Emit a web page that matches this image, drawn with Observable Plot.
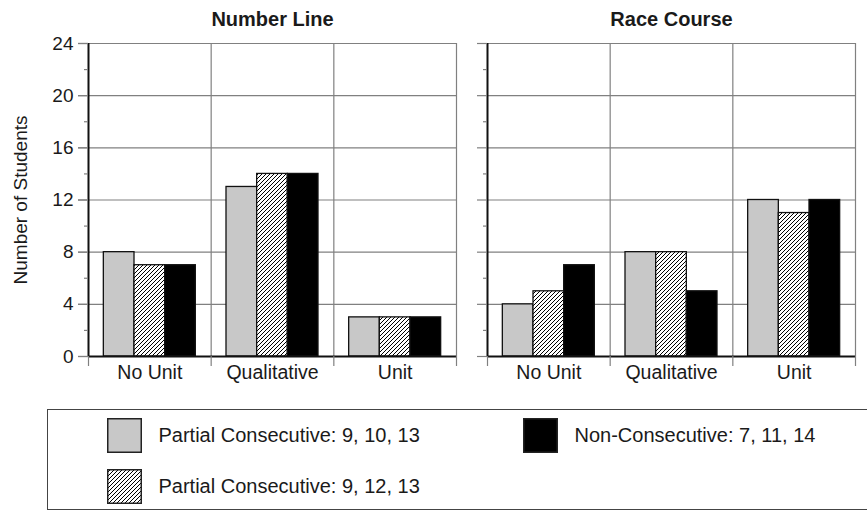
<!DOCTYPE html>
<html>
<head>
<meta charset="utf-8">
<script src="https://cdn.jsdelivr.net/npm/d3@7"></script>
<script src="https://cdn.jsdelivr.net/npm/@observablehq/plot@0.6"></script>
<style>
  html, body { margin: 0; padding: 0; background: #fff; overflow: hidden; }
  body { font-family: "Liberation Sans", Arial, Helvetica, sans-serif; color: #111; }
  #chart { position: relative; width: 867px; height: 512px; }
  .legend {
    position: absolute; left: 47px; top: 409px; width: 840px; height: 101px;
    box-sizing: border-box; border: 1.5px solid #444;
    display: grid; grid-template-columns: 416px auto; grid-template-rows: 35px 35px;
    row-gap: 16px; grid-auto-flow: column; padding: 7.5px 0 0 58.5px;
  }
  .legend .item { display: flex; align-items: center; gap: 17px; font-size: 20px; white-space: nowrap; color: #1a1a1a; }
  .legend svg { display: block; }
</style>
</head>
<body>
<svg width="0" height="0" style="position:absolute">
  <defs>
    <pattern id="hatch" patternUnits="userSpaceOnUse" width="4" height="4">
      <rect width="4" height="4" fill="#fff"></rect>
      <path d="M0,4 L4,0 M-1,1 L1,-1 M3,5 L5,3" stroke="#000" stroke-width="1"></path>
    </pattern>
  </defs>
</svg>
<div id="chart"></div>
<script>
// Task representations and solution categories
const panels = ["Number Line", "Race Course"];
const categories = ["No Unit", "Qualitative", "Unit"];
const series = [
  "Partial Consecutive: 9, 10, 13",
  "Partial Consecutive: 9, 12, 13",
  "Non-Consecutive: 7, 11, 14"
];
const seriesFills = ["#c8c8c8", "url(#hatch)", "#000"];

// Number of students per category (No Unit, Qualitative, Unit)
const numberLinePartial91013 = [8, 13, 3];
const numberLinePartial91213 = [7, 14, 3];
const numberLineNonConsecutive = [7, 14, 3];
const raceCoursePartial91013 = [4, 8, 12];
const raceCoursePartial91213 = [5, 8, 11];
const raceCourseNonConsecutive = [7, 5, 12];

const yMajorTicks = [0, 4, 8, 12, 16, 20, 24];
const yMinorTicks = [2, 6, 10, 14, 18, 22];

const panelSeries = {
  "Number Line": [numberLinePartial91013, numberLinePartial91213, numberLineNonConsecutive],
  "Race Course": [raceCoursePartial91013, raceCoursePartial91213, raceCourseNonConsecutive]
};

const rows = [];
for (const panel of panels) {
  panelSeries[panel].forEach((values, si) => {
    values.forEach((value, ci) => {
      rows.push({panel, category: categories[ci], ci, series: series[si], si, value});
    });
  });
}

// Each category occupies one unit on x; three bars fill the middle three quarters.
const barWidth = 0.25;
const groupStart = 0.125;

const gridColor = "#808080";
const fontSize = 19;

const plot = Plot.plot({
  width: 867,
  height: 400,
  marginLeft: 88,
  marginRight: 12,
  marginTop: 43,
  marginBottom: 44,
  style: {fontFamily: "'Liberation Sans', Arial, Helvetica, sans-serif", fontSize: fontSize + "px", color: "#1a1a1a", background: "#fff", overflow: "visible"},
  fx: {domain: panels, paddingInner: 0.0777, paddingOuter: 0},
  x: {domain: [0, categories.length]},
  y: {domain: [0, 24]},
  color: {type: "ordinal", domain: series, range: seriesFills},
  marks: [
    Plot.gridY({ticks: yMajorTicks.slice(1), stroke: gridColor, strokeOpacity: 1, strokeWidth: 1.2}),
    Plot.gridX({ticks: [1, 2, 3], stroke: gridColor, strokeOpacity: 1, strokeWidth: 1.2}),
    Plot.rectY(rows, {
      fx: "panel",
      x1: (d) => d.ci + groupStart + barWidth * d.si,
      x2: (d) => d.ci + groupStart + barWidth * (d.si + 1),
      y1: 0,
      y2: "value",
      fill: "series",
      stroke: "#111",
      strokeWidth: 1.3
    }),
    Plot.ruleX([0], {stroke: "#111", strokeWidth: 2}),
    Plot.ruleY([0], {stroke: "#111", strokeWidth: 2}),
    // tick marks on every panel
    Plot.axisY({ticks: yMajorTicks, tickSize: 10, stroke: gridColor, strokeWidth: 1.2, tickFormat: () => "", label: null, facetAnchor: null}),
    Plot.axisY({ticks: yMinorTicks, tickSize: 4, stroke: gridColor, strokeWidth: 1.2, tickFormat: () => "", label: null, facetAnchor: null}),
    // tick labels and title on the leftmost panel
    Plot.axisY({
      ticks: yMajorTicks, tickSize: 10, tickPadding: 5, stroke: gridColor, strokeWidth: 1.2,
      label: "Number of Students", labelAnchor: "center", labelArrow: "none", labelOffset: 75,
      facetAnchor: "left", fontSize
    }),
    Plot.axisX({ticks: [0, 1, 2, 3], tickSize: 10, stroke: gridColor, strokeWidth: 1.2, tickFormat: () => "", label: null}),
    Plot.axisX({
      ticks: categories.map((c, i) => i + 0.5), tickSize: 0, tickPadding: 9,
      tickFormat: (v) => categories[Math.floor(v)], label: null, fontSize: 19.5
    }),
    Plot.axisFx({anchor: "top", tickSize: 0, tickPadding: 18, label: null, fontSize: 20, fontWeight: "bold"})
  ]
});

const chart = document.getElementById("chart");
chart.appendChild(plot);

// Legend, laid out in two rows, filled column by column
const legend = document.createElement("div");
legend.className = "legend";
series.forEach((name, i) => {
  const item = document.createElement("div");
  item.className = "item";
  const sw = d3.create("svg").attr("width", 35).attr("height", 35);
  sw.append("rect").attr("x", 0.75).attr("y", 0.75).attr("width", 33.5).attr("height", 33.5)
    .attr("fill", seriesFills[i]).attr("stroke", "#222").attr("stroke-width", 1.5);
  item.appendChild(sw.node());
  const label = document.createElement("span");
  label.textContent = name;
  item.appendChild(label);
  legend.appendChild(item);
});
chart.appendChild(legend);
</script>
</body>
</html>
